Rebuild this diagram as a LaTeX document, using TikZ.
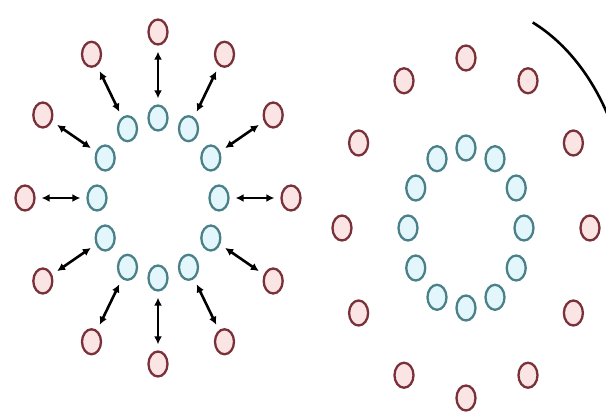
\documentclass[tikz,border=0pt]{standalone}
\usetikzlibrary{arrows.meta,shapes.geometric}
\definecolor{ringblue}{HTML}{4A8088}
\definecolor{ringbluefill}{HTML}{E2F6FB}
\definecolor{ringred}{HTML}{7A3038}
\definecolor{ringredfill}{HTML}{FBE4E4}
\begin{document}
\begin{tikzpicture}[x=1pt,y=-1pt,
    blu/.style={ellipse,draw=ringblue,fill=ringbluefill,line width=2.3pt,
        minimum width=19pt,minimum height=25pt,inner sep=0pt},
    rd/.style={ellipse,draw=ringred,fill=ringredfill,line width=2.3pt,
        minimum width=19pt,minimum height=25pt,inner sep=0pt},
    link/.style={{Latex[length=8pt,width=8pt]}-{Latex[length=8pt,width=8pt]},
        line width=2.6pt,shorten <=6pt,shorten >=6pt}]
    \useasboundingbox (0,0) rectangle (606,413);
    % left: inner ring pushed out
    \foreach \i in {0,...,11} {
        \node[blu] (bl\i) at ({158+61*cos(30*\i)},{198-80*sin(30*\i)}) {};
        \node[rd] (rl\i) at ({158+133*cos(30*\i)},{198-166*sin(30*\i)}) {};
        \draw[link] (bl\i) -- (rl\i);
    }
    % right: rings at rest
    \foreach \i in {0,...,11} {
        \node[blu] (br\i) at ({466+58*cos(30*\i)},{228-80*sin(30*\i)}) {};
        \node[rd] (rr\i) at ({466+124*cos(30*\i)},{228-170*sin(30*\i)}) {};
    }
    \draw[line width=2.6pt, domain=30:66, samples=40] plot ({466+164*cos(\x)},{228-225*sin(\x)});
\end{tikzpicture}
\end{document}
